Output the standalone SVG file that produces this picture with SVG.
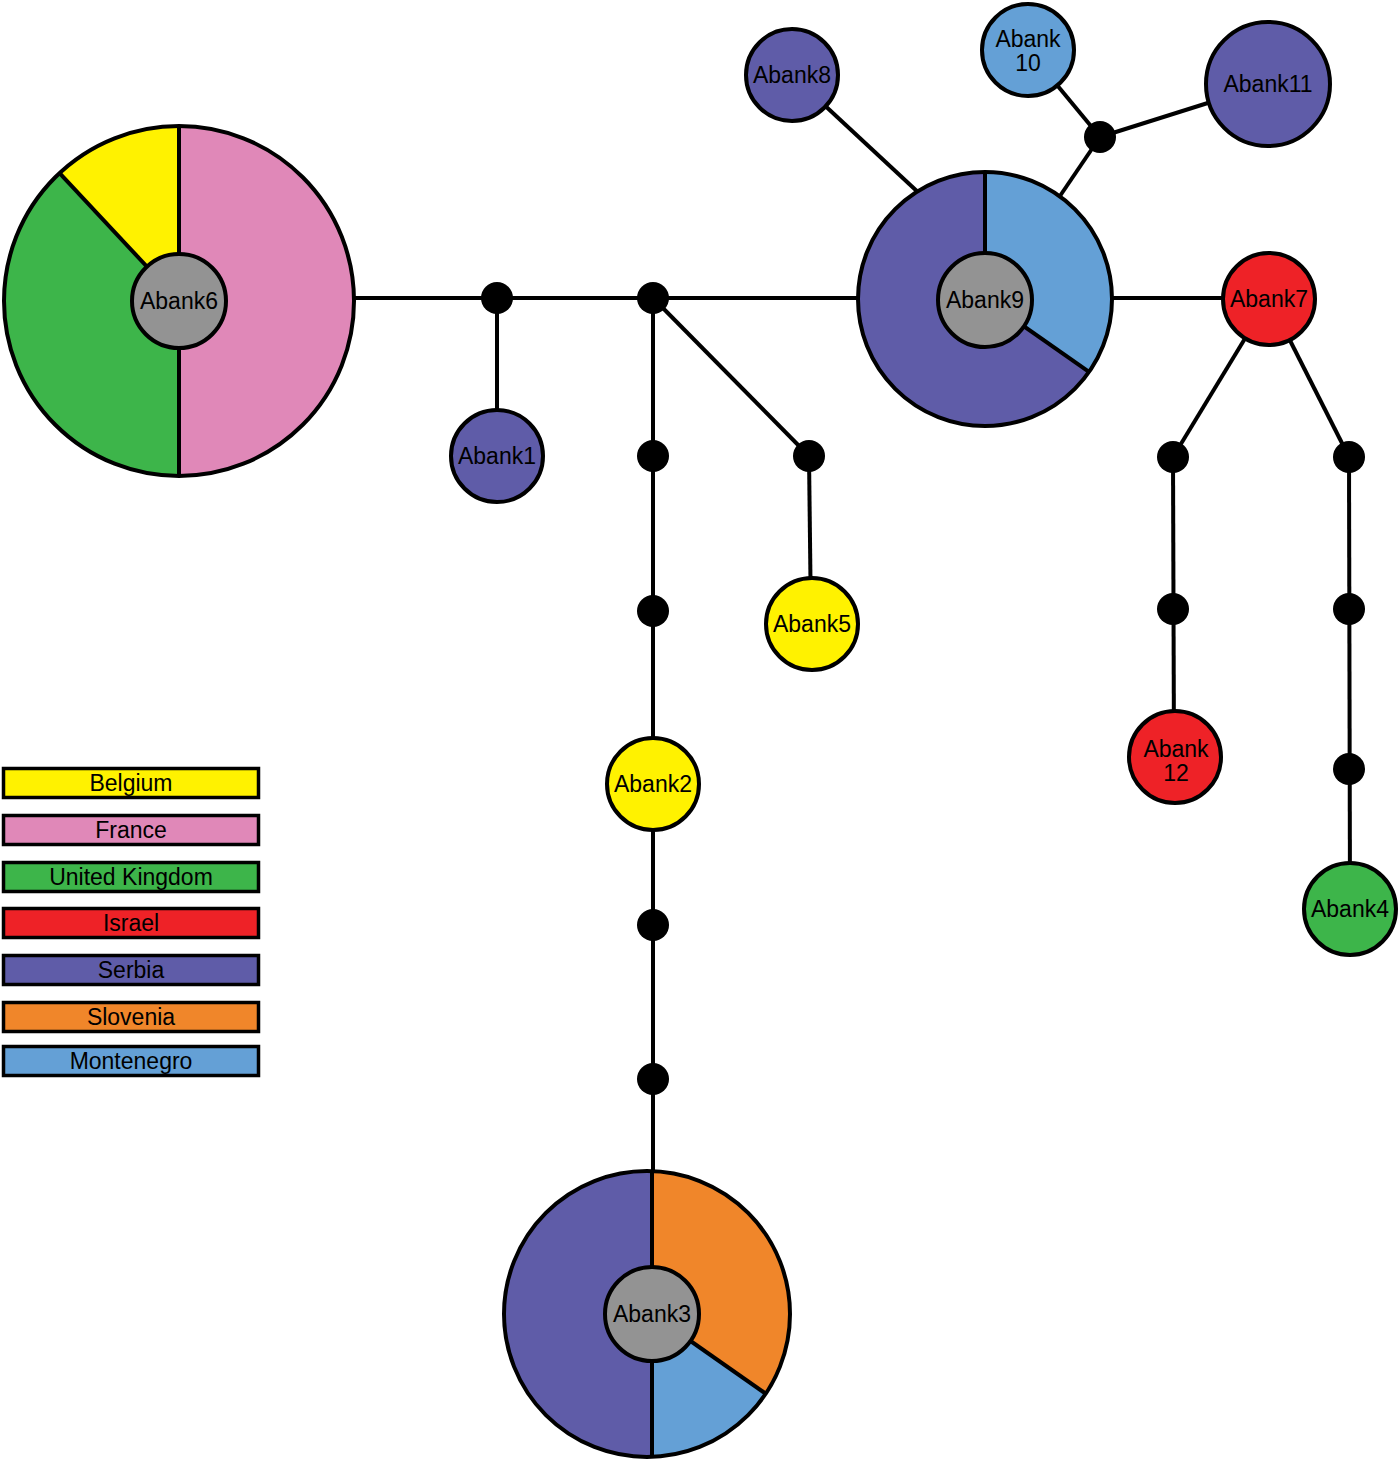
<svg xmlns="http://www.w3.org/2000/svg" width="1400" height="1462" viewBox="0 0 1400 1462">
<style>
.ln{stroke:#000;stroke-width:4;fill:none}
.nd{stroke:#000;stroke-width:4}
.dv{stroke:#000;stroke-width:4}
.dot{fill:#000}
.t{font-family:"Liberation Sans",Arial,sans-serif;font-size:23px;text-anchor:middle;fill:#000}
.lg{stroke:#000;stroke-width:3.5}
.pur{fill:#5F5CA8}.blu{fill:#64A0D6}.yel{fill:#FFF200}.pnk{fill:#E088B8}.grn{fill:#3DB54A}.red{fill:#EE2227}.org{fill:#F0862A}.gry{fill:#939393}
</style>
<rect width="1400" height="1462" fill="#fff"/>
<g id="connectors">
<line class="ln" x1="179" y1="298" x2="985" y2="298"/>
<line class="ln" x1="497" y1="298" x2="497" y2="456"/>
<line class="ln" x1="653" y1="298" x2="653" y2="1314"/>
<line class="ln" x1="653" y1="298" x2="809" y2="456"/>
<line class="ln" x1="809" y1="456" x2="811" y2="624"/>
<line class="ln" x1="792" y1="75" x2="920" y2="194"/>
<line class="ln" x1="1043" y1="221" x2="1100" y2="137"/>
<line class="ln" x1="1100" y1="137" x2="1028" y2="50"/>
<line class="ln" x1="1100" y1="137" x2="1268" y2="84"/>
<line class="ln" x1="985" y1="298" x2="1269" y2="298"/>
<line class="ln" x1="1269" y1="299" x2="1173" y2="457"/>
<line class="ln" x1="1269" y1="299" x2="1349" y2="457"/>
<line class="ln" x1="1173" y1="457" x2="1174" y2="757"/>
<line class="ln" x1="1349" y1="457" x2="1350" y2="909"/>
</g>
<g id="mv1"><circle class="dot" cx="497" cy="298" r="16"/></g>
<g id="mv2"><circle class="dot" cx="653" cy="298" r="16"/></g>
<g id="mv3"><circle class="dot" cx="653" cy="456" r="16"/></g>
<g id="mv4"><circle class="dot" cx="653" cy="611" r="16"/></g>
<g id="mv5"><circle class="dot" cx="809" cy="456" r="16"/></g>
<g id="mv6"><circle class="dot" cx="653" cy="925" r="16"/></g>
<g id="mv7"><circle class="dot" cx="653" cy="1079" r="16"/></g>
<g id="mv8"><circle class="dot" cx="1100" cy="137" r="16"/></g>
<g id="mv9"><circle class="dot" cx="1173" cy="457" r="16"/></g>
<g id="mv10"><circle class="dot" cx="1173" cy="609" r="16"/></g>
<g id="mv11"><circle class="dot" cx="1349" cy="457" r="16"/></g>
<g id="mv12"><circle class="dot" cx="1349" cy="609" r="16"/></g>
<g id="mv13"><circle class="dot" cx="1349" cy="769" r="16"/></g>
<g id="abank6">
<circle class="grn" cx="179" cy="301" r="175"/>
<path class="pnk" d="M179,301 L179,126 A175,175 0 0 1 179,476 Z"/>
<path class="yel" d="M179,301 L59.6,173.1 A175,175 0 0 1 179,126 Z"/>
<line class="dv" x1="179" y1="126" x2="179" y2="476"/>
<line class="dv" x1="179" y1="301" x2="59.6" y2="173.1"/>
<circle class="nd" fill="none" cx="179" cy="301" r="175"/>
<circle class="nd gry" cx="179" cy="301" r="47"/>
<text class="t" x="179" y="309">Abank6</text>
</g>
<g id="abank9">
<circle class="pur" cx="985" cy="299" r="127"/>
<path class="blu" d="M985,299 L985,172 A127,127 0 0 1 1089,371.9 Z"/>
<line class="dv" x1="985" y1="299" x2="985" y2="172"/>
<line class="dv" x1="985" y1="299" x2="1089" y2="371.9"/>
<circle class="nd" fill="none" cx="985" cy="299" r="127"/>
<circle class="nd gry" cx="985" cy="300" r="47"/>
<text class="t" x="985" y="308">Abank9</text>
</g>
<g id="abank3">
<circle class="pur" cx="647" cy="1314" r="143"/>
<path class="org" d="M652,1314 L652,1171.1 A143,143 0 0 1 765.8,1393.7 Z"/>
<path class="blu" d="M652,1314 L765.8,1393.7 A143,143 0 0 1 652,1456.9 Z"/>
<line class="dv" x1="652" y1="1171.1" x2="652" y2="1456.9"/>
<line class="dv" x1="652" y1="1314" x2="765.8" y2="1393.7"/>
<circle class="nd" fill="none" cx="647" cy="1314" r="143"/>
<circle class="nd gry" cx="652" cy="1314" r="47"/>
<text class="t" x="652" y="1322">Abank3</text>
</g>
<g id="abank1"><circle class="nd pur" cx="497" cy="456" r="46"/><text class="t" x="497" y="464">Abank1</text></g>
<g id="abank5"><circle class="nd yel" cx="812" cy="624" r="46"/><text class="t" x="812" y="632">Abank5</text></g>
<g id="abank2"><circle class="nd yel" cx="653" cy="784" r="46"/><text class="t" x="653" y="792">Abank2</text></g>
<g id="abank8"><circle class="nd pur" cx="792" cy="75" r="46"/><text class="t" x="792" y="83">Abank8</text></g>
<g id="abank10"><circle class="nd blu" cx="1028" cy="50" r="46"/><text class="t" x="1028" y="47">Abank</text><text class="t" x="1028" y="71">10</text></g>
<g id="abank11"><circle class="nd pur" cx="1268" cy="84" r="62"/><text class="t" x="1268" y="92">Abank11</text></g>
<g id="abank7"><circle class="nd red" cx="1269" cy="299" r="46"/><text class="t" x="1269" y="307">Abank7</text></g>
<g id="abank12"><circle class="nd red" cx="1175" cy="757" r="46"/><text class="t" x="1176" y="757">Abank</text><text class="t" x="1176" y="781">12</text></g>
<g id="abank4"><circle class="nd grn" cx="1350" cy="909" r="46"/><text class="t" x="1350" y="917">Abank4</text></g>
<g id="legend">
<rect class="lg yel" x="3.5" y="768.5" width="255" height="29"/><text class="t" x="131" y="791">Belgium</text>
<rect class="lg pnk" x="3.5" y="815.5" width="255" height="29"/><text class="t" x="131" y="838">France</text>
<rect class="lg grn" x="3.5" y="862.5" width="255" height="29"/><text class="t" x="131" y="885">United Kingdom</text>
<rect class="lg red" x="3.5" y="908.5" width="255" height="29"/><text class="t" x="131" y="931">Israel</text>
<rect class="lg pur" x="3.5" y="955.5" width="255" height="29"/><text class="t" x="131" y="978">Serbia</text>
<rect class="lg org" x="3.5" y="1002.5" width="255" height="29"/><text class="t" x="131" y="1025">Slovenia</text>
<rect class="lg blu" x="3.5" y="1046.5" width="255" height="29"/><text class="t" x="131" y="1069">Montenegro</text>
</g>
</svg>
